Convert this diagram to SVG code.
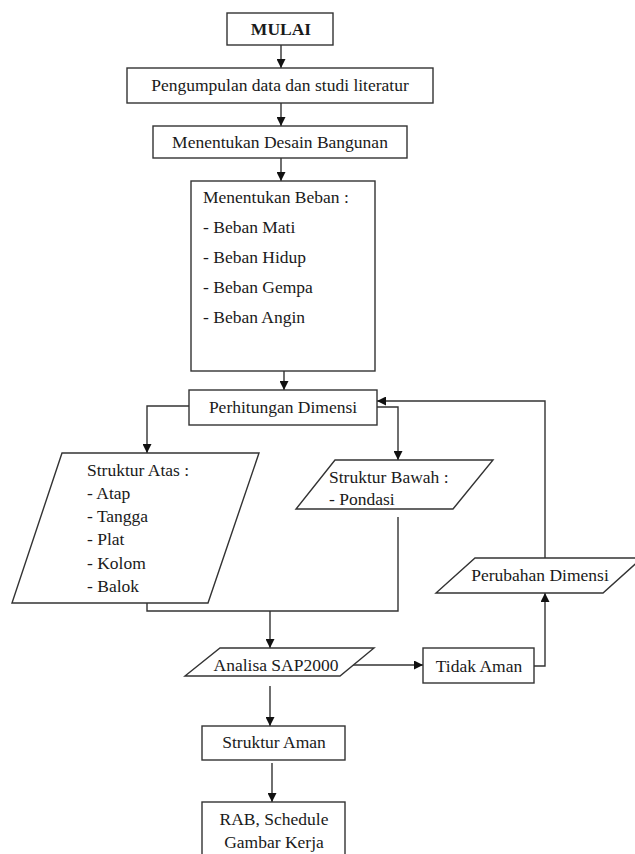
<svg xmlns="http://www.w3.org/2000/svg" width="635" height="854" viewBox="0 0 635 854">
<defs>
<marker id="arr" viewBox="0 0 10 10" refX="10" refY="5" markerWidth="9" markerHeight="9" markerUnits="userSpaceOnUse" orient="auto">
<path d="M0,0 L10,5 L0,10 z" fill="#111"/>
</marker>
<style>
.box{fill:#fff;stroke:#333;stroke-width:1.4}
.t{font-family:"Liberation Serif","Times New Roman",serif;font-size:17.5px;fill:#1a1a1a}
.c{text-anchor:middle}
.ln{fill:none;stroke:#333;stroke-width:1.4}
.ar{marker-end:url(#arr)}
</style>
</defs>
<rect width="635" height="854" fill="#fff"/>
<g id="connectors">
<path class="ln ar" d="M281,45 V68"/>
<path class="ln ar" d="M281,103 V126"/>
<path class="ln ar" d="M281,158 V181"/>
<path class="ln ar" d="M284,371 V390"/>
<path class="ln ar" d="M190,406 H147 V453"/>
<path class="ln ar" d="M377,407 H398 V460"/>
<path class="ln" d="M147,603 V611 H398 V517"/>
<path class="ln ar" d="M270,611 V648"/>
<path class="ln ar" d="M270,686 V726"/>
<path class="ln ar" d="M272,763 V802"/>
<path class="ln ar" d="M353,665 H423"/>
<path class="ln ar" d="M534,666 H545 V593"/>
<path class="ln ar" d="M545,558 V401 H377"/>
</g>
<g id="mulai">
<rect class="box" x="227" y="13" width="106" height="32"/>
<text class="t c" x="281" y="35" font-weight="bold">MULAI</text>
</g>
<g id="pengumpulan">
<rect class="box" x="127" y="68" width="306" height="35"/>
<text class="t c" x="280" y="91">Pengumpulan data dan studi literatur</text>
</g>
<g id="desain">
<rect class="box" x="153" y="126" width="254" height="32"/>
<text class="t c" x="280" y="148">Menentukan Desain Bangunan</text>
</g>
<g id="beban">
<rect class="box" x="191" y="181" width="184" height="190"/>
<text class="t" x="203" y="203">Menentukan Beban :</text>
<text class="t" x="203" y="233">- Beban Mati</text>
<text class="t" x="203" y="263">- Beban Hidup</text>
<text class="t" x="203" y="293">- Beban Gempa</text>
<text class="t" x="203" y="323">- Beban Angin</text>
</g>
<g id="perhitungan">
<rect class="box" x="189" y="390" width="188" height="35"/>
<text class="t c" x="283" y="413">Perhitungan Dimensi</text>
</g>
<g id="struktur-atas">
<polygon class="box" points="62,453 259,453 208,603 12,603"/>
<text class="t" x="87" y="476">Struktur Atas :</text>
<text class="t" x="87" y="499">- Atap</text>
<text class="t" x="87" y="522">- Tangga</text>
<text class="t" x="87" y="545">- Plat</text>
<text class="t" x="87" y="569">- Kolom</text>
<text class="t" x="87" y="592">- Balok</text>
</g>
<g id="struktur-bawah">
<polygon class="box" points="335,460 493,460 453,509 296,509"/>
<text class="t" x="329" y="483">Struktur Bawah :</text>
<text class="t" x="329" y="505">- Pondasi</text>
</g>
<g id="perubahan">
<polygon class="box" points="475,558 642,558 603,593 436,593"/>
<text class="t c" x="540" y="581">Perubahan Dimensi</text>
</g>
<g id="analisa">
<polygon class="box" points="220,648 374,648 340,676 185,676"/>
<text class="t c" x="276" y="671">Analisa SAP2000</text>
</g>
<g id="tidak-aman">
<rect class="box" x="423" y="648" width="111" height="35"/>
<text class="t c" x="479" y="672">Tidak Aman</text>
</g>
<g id="struktur-aman">
<rect class="box" x="202" y="726" width="143" height="34"/>
<text class="t c" x="274" y="748">Struktur Aman</text>
</g>
<g id="rab">
<rect class="box" x="202" y="802" width="143" height="70"/>
<text class="t c" x="274" y="825">RAB, Schedule</text>
<text class="t c" x="274" y="848">Gambar Kerja</text>
</g>
</svg>
